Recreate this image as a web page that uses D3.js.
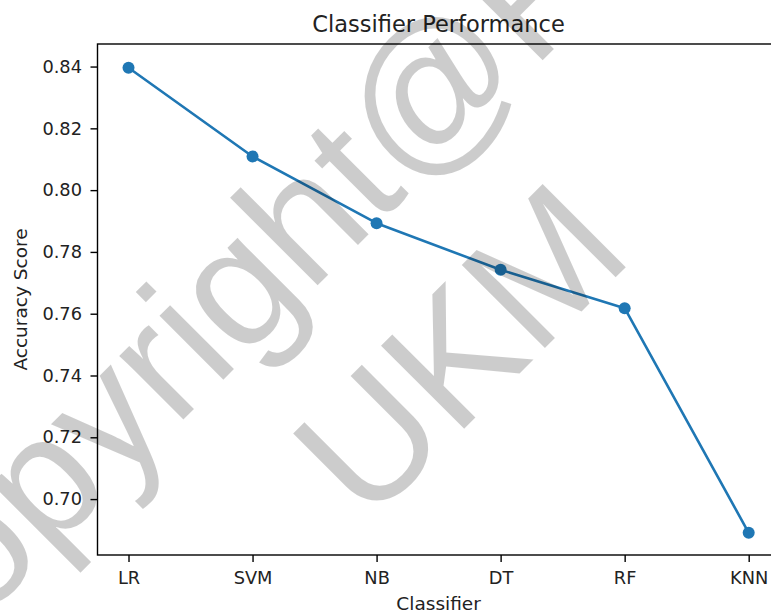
<!DOCTYPE html>
<html>
<head>
<meta charset="utf-8">
<script src="https://cdn.jsdelivr.net/npm/d3@7"></script>
<style>
  html, body { margin: 0; padding: 0; background: #fff; }
  svg { display: block; }
</style>
</head>
<body>
<svg id="chart" width="771" height="611"></svg>
<script>
const categories = ["LR", "SVM", "NB", "DT", "RF", "KNN"];
const accuracy = [0.8396, 0.8109, 0.7893, 0.7742, 0.7618, 0.6891];
const yTicks = [0.70, 0.72, 0.74, 0.76, 0.78, 0.80, 0.82, 0.84];
const titleText = "Classifier Performance";
const xLabel = "Classifier";
const yLabel = "Accuracy Score";
const watermarkLines = ["Copyright@FTSM", "UKM"];

(function () {
const svg = d3.select("#chart");
const mLeft = 97.5, mRight = 779.7, mTop = 44, mBottom = 555;
const font = "'DejaVu Sans', sans-serif";

const x = d3.scaleLinear().domain([-0.25, categories.length - 0.75]).range([mLeft, mRight]);
const y = d3.scaleLinear().domain([0.6819, 0.8473]).range([mBottom, mTop]);

const g = svg.append("g");
g.append("rect").attr("x", mLeft).attr("y", mTop).attr("width", mRight - mLeft).attr("height", mBottom - mTop)
  .attr("fill", "none").attr("stroke", "#000").attr("stroke-width", 1.4);

const xAxis = g.append("g").attr("transform", `translate(0,${mBottom})`)
  .call(d3.axisBottom(x).tickValues(d3.range(categories.length)).tickFormat(i => categories[i])
    .tickSize(7).tickPadding(9.6).tickSizeOuter(0));
xAxis.select(".domain").remove();
xAxis.selectAll("line").attr("stroke", "#000").attr("stroke-width", 1.4);
xAxis.selectAll("text").attr("font-family", font).attr("font-size", 17.8).attr("fill", "#222");

const yAxis = g.append("g").attr("transform", `translate(${mLeft},0)`)
  .call(d3.axisLeft(y).tickValues(yTicks).tickFormat(d3.format(".2f"))
    .tickSize(7).tickPadding(8.5).tickSizeOuter(0));
yAxis.select(".domain").remove();
yAxis.selectAll("line").attr("stroke", "#000").attr("stroke-width", 1.4);
yAxis.selectAll("text").attr("font-family", font).attr("font-size", 17.8).attr("fill", "#222");

const line = d3.line().x((d, i) => x(i)).y(d => y(d));
g.append("path").datum(accuracy).attr("d", line)
  .attr("fill", "none").attr("stroke", "#1f77b4").attr("stroke-width", 2.6).attr("stroke-linejoin", "round");
g.selectAll("circle.pt").data(accuracy).join("circle").attr("class", "pt")
  .attr("cx", (d, i) => x(i)).attr("cy", d => y(d)).attr("r", 6).attr("fill", "#1f77b4");

svg.append("text").attr("x", (mLeft + mRight) / 2).attr("y", 32)
  .attr("text-anchor", "middle").attr("font-family", font).attr("font-size", 22.5).attr("fill", "#222")
  .text(titleText);
svg.append("text").attr("x", (mLeft + mRight) / 2).attr("y", 610)
  .attr("text-anchor", "middle").attr("font-family", font).attr("font-size", 18.5).attr("fill", "#222")
  .text(xLabel);
svg.append("text").attr("transform", `translate(27,${(mTop + mBottom) / 2}) rotate(-90)`)
  .attr("text-anchor", "middle").attr("font-family", font).attr("font-size", 18.5).attr("fill", "#222")
  .text(yLabel);

const wmAnchors = [[377.3, 225.7], [501.4, 391.7]];
svg.append("g").selectAll("text").data(watermarkLines).join("text")
  .attr("transform", (d, i) => `translate(${wmAnchors[i][0]},${wmAnchors[i][1]}) rotate(-45)`)
  .attr("text-anchor", "middle")
  .attr("font-family", "'Liberation Sans', Arial, sans-serif").attr("font-size", 171)
  .attr("fill", "#000").attr("fill-opacity", 0.2)
  .text(d => d);
})();
</script>
</body>
</html>
